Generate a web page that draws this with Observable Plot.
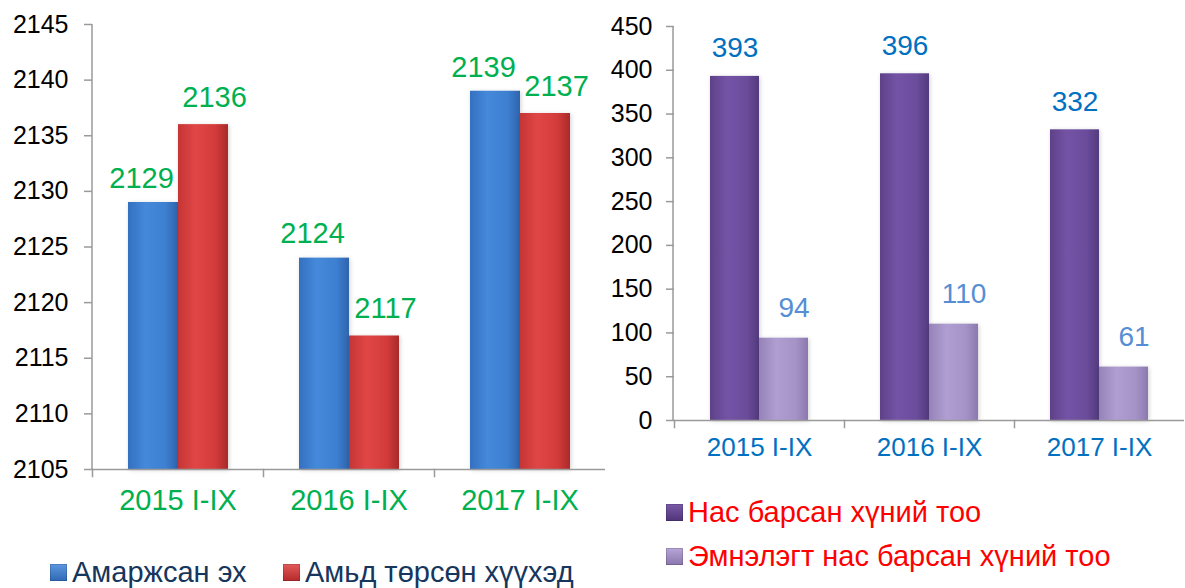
<!DOCTYPE html>
<html>
<head>
<meta charset="utf-8">
<script src="https://cdn.jsdelivr.net/npm/d3@7"></script>
<script src="https://cdn.jsdelivr.net/npm/@observablehq/plot@0.6"></script>
<style>
  html, body { margin: 0; padding: 0; background: #fff; overflow: hidden; }
  body { width: 1185px; height: 588px; position: relative; font-family: "Liberation Sans", Arial, sans-serif; }
  #left { position: absolute; left: 0; top: 0; }
  #right { position: absolute; left: 600px; top: 0; }
  .legend-item { position: absolute; display: flex; align-items: center; font-size: 29px; white-space: nowrap; line-height: 1; }
  .sw { width: 17px; height: 17px; margin-right: 5px; box-shadow: inset 0 0 0 1px rgba(0,0,0,0.15); }
  g[aria-label="bar"] rect { filter: drop-shadow(1px 1px 2px rgba(0,0,0,0.18)); }
</style>
</head>
<body>
<div id="left"></div>
<div id="right"></div>
<div class="legend-item" style="left:50px; top:558px; color:#17365d;"><span class="sw" style="background:linear-gradient(#5d97e0,#2f68b4);"></span>Амаржсан эх</div>
<div class="legend-item" style="left:283px; top:558px; color:#17365d;"><span class="sw" style="background:linear-gradient(#e35a5a,#b52a2a);"></span>Амьд төрсөн хүүхэд</div>
<div class="legend-item" style="left:666px; top:498px; color:#ff0000;"><span class="sw" style="background:linear-gradient(#7a5aa8,#4e3478);"></span>Нас барсан хүний тоо</div>
<div class="legend-item" style="left:666px; top:542px; color:#ff0000;"><span class="sw" style="background:linear-gradient(#b7a6d6,#8a76ad);"></span>Эмнэлэгт нас барсан хүний тоо</div>
<script>
// ---- data ----
const categories = ["2015 I-IX", "2016 I-IX", "2017 I-IX"];
const leftSeries = ["Амаржсан эх", "Амьд төрсөн хүүхэд"];
const mothers = [2129, 2124, 2139];
const liveBirths = [2136, 2117, 2137];
const leftTicks = [2105, 2110, 2115, 2120, 2125, 2130, 2135, 2140, 2145];

const rightSeries = ["Нас барсан хүний тоо", "Эмнэлэгт нас барсан хүний тоо"];
const deaths = [393, 396, 332];
const hospitalDeaths = [94, 110, 61];
const rightTicks = [0, 50, 100, 150, 200, 250, 300, 350, 400, 450];

// ---- tables ----
const leftData = categories.flatMap((c, i) => [
  {category: c, series: leftSeries[0], value: mothers[i]},
  {category: c, series: leftSeries[1], value: liveBirths[i]}
]);
const rightData = categories.flatMap((c, i) => [
  {category: c, series: rightSeries[0], value: deaths[i]},
  {category: c, series: rightSeries[1], value: hospitalDeaths[i]}
]);

const FONT = "'Liberation Sans', Arial, sans-serif";
const axisGray = "#9a9a9a";

function addGradients(svg, defsList) {
  const defs = d3.select(svg).insert("defs", ":first-child");
  for (const g of defsList) {
    const lg = defs.append("linearGradient").attr("id", g.id)
      .attr("x1", "0").attr("x2", "1").attr("y1", "0").attr("y2", "0");
    g.stops.forEach(([o, c]) => lg.append("stop").attr("offset", o).attr("stop-color", c));
  }
}
// vertical axis line drawn from the plot's own y scale
function addAxisLine(svg, x, domain) {
  const y = svg.scale("y");
  d3.select(svg).append("line")
    .attr("x1", x).attr("x2", x)
    .attr("y1", y.apply(domain[1])).attr("y2", y.apply(domain[0]))
    .attr("stroke", axisGray).attr("stroke-width", 1.5);
}

// ---- left chart ----
const leftPlot = Plot.plot({
  width: 605, height: 520,
  marginLeft: 92, marginRight: 0, marginTop: 24, marginBottom: 51,
  style: {fontFamily: FONT, background: "transparent", overflow: "visible"},
  fx: {domain: categories, padding: 0, label: null},
  x: {domain: leftSeries, paddingInner: 0, paddingOuter: 0.71, axis: null},
  y: {domain: [2105, 2145], clamp: true},
  color: {domain: leftSeries, range: ["url(#gBlue)", "url(#gRed)"]},
  marks: [
    Plot.barY(leftData, {fx: "category", x: "series", y: "value", fill: "series"}),
    Plot.ruleY([2105], {stroke: axisGray, strokeWidth: 1.5}),
    Plot.frame({anchor: "left", insetTop: 445, insetBottom: -7, stroke: axisGray, strokeWidth: 1.5}),
    Plot.axisY({ticks: leftTicks, tickFormat: d3.format("d"), tickSize: 8, tickPadding: 16, fontSize: 25, stroke: axisGray, fill: "#000", label: null, strokeWidth: 1.5}),
    Plot.axisFx({anchor: "bottom", tickSize: 0, tickPadding: 20, fontSize: 29, fill: "#00b050", label: null}),
    Plot.text(leftData.filter(d => d.series === leftSeries[0]), {fx: "category", x: "series", y: "value", text: d => String(d.value), dy: -24, dx: -12, fill: "#00b050", fontSize: 29}),
    Plot.text(leftData.filter(d => d.series === leftSeries[1]), {fx: "category", x: "series", y: "value", text: d => String(d.value), dy: -27, dx: 11, fill: "#00b050", fontSize: 29})
  ]
});
addGradients(leftPlot, [
  {id: "gBlue", stops: [["0", "#3470c0"], ["0.35", "#4589db"], ["0.75", "#3d7fd0"], ["1", "#2f64ac"]]},
  {id: "gRed", stops: [["0", "#c53535"], ["0.35", "#e14646"], ["0.75", "#d33b3b"], ["1", "#a92a2a"]]}
]);
addAxisLine(leftPlot, 92, [2105, 2145]);
document.getElementById("left").appendChild(leftPlot);

// ---- right chart ----
const rightPlot = Plot.plot({
  width: 585, height: 470,
  marginLeft: 73, marginRight: 0, marginTop: 26, marginBottom: 50,
  style: {fontFamily: FONT, background: "transparent", overflow: "visible"},
  fx: {domain: categories, padding: 0, label: null},
  x: {domain: rightSeries, paddingInner: 0, paddingOuter: 0.72, axis: null},
  y: {domain: [0, 450]},
  color: {domain: rightSeries, range: ["url(#gPurple)", "url(#gLilac)"]},
  marks: [
    Plot.barY(rightData, {fx: "category", x: "series", y: "value", fill: "series"}),
    Plot.ruleY([0], {stroke: axisGray, strokeWidth: 1.5}),
    Plot.frame({anchor: "left", insetTop: 394, insetBottom: -7, stroke: axisGray, strokeWidth: 1.5}),
    Plot.axisY({ticks: rightTicks, tickSize: 8, tickPadding: 14, fontSize: 25, stroke: axisGray, fill: "#000", label: null, strokeWidth: 1.5}),
    Plot.axisFx({anchor: "bottom", tickSize: 0, tickPadding: 17, fontSize: 26, fill: "#0070c0", label: null}),
    Plot.text(rightData.filter(d => d.series === rightSeries[0]), {fx: "category", x: "series", y: "value", text: d => String(d.value), dy: -28, fill: "#0070c0", fontSize: 28}),
    Plot.text(rightData.filter(d => d.series === rightSeries[1]), {fx: "category", x: "series", y: "value", text: d => String(d.value), dy: -30, dx: 10, fill: "#558ed5", fontSize: 28})
  ]
});
addGradients(rightPlot, [
  {id: "gPurple", stops: [["0", "#5e4189"], ["0.35", "#7453a6"], ["0.75", "#6a4c9b"], ["1", "#543a7e"]]},
  {id: "gLilac", stops: [["0", "#9582b8"], ["0.35", "#b09ed2"], ["0.75", "#a593c8"], ["1", "#8c78ae"]]}
]);
addAxisLine(rightPlot, 73, [0, 450]);
document.getElementById("right").appendChild(rightPlot);
</script>
</body>
</html>
